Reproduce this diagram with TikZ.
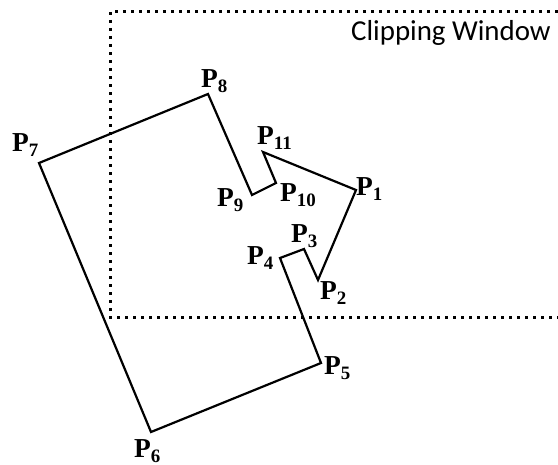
\documentclass[tikz,border=0pt]{standalone}
\usepackage{fontspec}
\setmainfont{Liberation Serif}
\newfontfamily\winfont{Carlito}
\newcommand\plabel[1]{\bfseries P\raisebox{-5bp}{\fontsize{19}{19}\selectfont #1}}
\begin{document}
\begin{tikzpicture}[x=1bp,y=-1bp,
  poly/.style={line width=2.2bp,line join=miter},
  win/.style={line width=3bp,dash pattern=on 3bp off 5bp},
  plbl/.style={anchor=base west,inner sep=0pt,font=\fontsize{27.5}{27.5}\selectfont},
  wlbl/.style={anchor=base west,inner sep=0pt,font=\winfont\fontsize{29}{29}\selectfont}]
\useasboundingbox (0,0) rectangle (558,465);
% clipping window
\coordinate (w1) at (558,12);
\coordinate (w2) at (110,12);
\coordinate (w3) at (110,317);
\coordinate (w4) at (558,317);
\draw[win] (w1) -- (w2) -- (w3) -- (w4);
\node[wlbl] (wt) at (351,41) {Clipping Window};
% polygon vertices
\coordinate (p1) at (356,190);
\coordinate (p2) at (318,280);
\coordinate (p3) at (304,249);
\coordinate (p4) at (280,258);
\coordinate (p5) at (321,363);
\coordinate (p6) at (151,432);
\coordinate (p7) at (39,163);
\coordinate (p8) at (208,94);
\coordinate (p9) at (252,195);
\coordinate (p10) at (276,183);
\coordinate (p11) at (263,152);
\draw[poly] (p1) -- (p2) -- (p3) -- (p4) -- (p5) -- (p6) -- (p7) -- (p8) -- (p9) -- (p10) -- (p11) -- cycle;
% labels
\node[plbl] (l1) at (356,196) {\plabel{1}};
\node[plbl] (l2) at (320,299) {\plabel{2}};
\node[plbl] (l3) at (291,243) {\plabel{3}};
\node[plbl] (l4) at (247,265) {\plabel{4}};
\node[plbl] (l5) at (324,374) {\plabel{5}};
\node[plbl] (l6) at (134,457) {\plabel{6}};
\node[plbl] (l7) at (12,152) {\plabel{7}};
\node[plbl] (l8) at (201,88) {\plabel{8}};
\node[plbl] (l9) at (217,207) {\plabel{9}};
\node[plbl] (l10) at (280,202) {\plabel{10}};
\node[plbl] (l11) at (257,145) {\plabel{11}};
\end{tikzpicture}
\end{document}
